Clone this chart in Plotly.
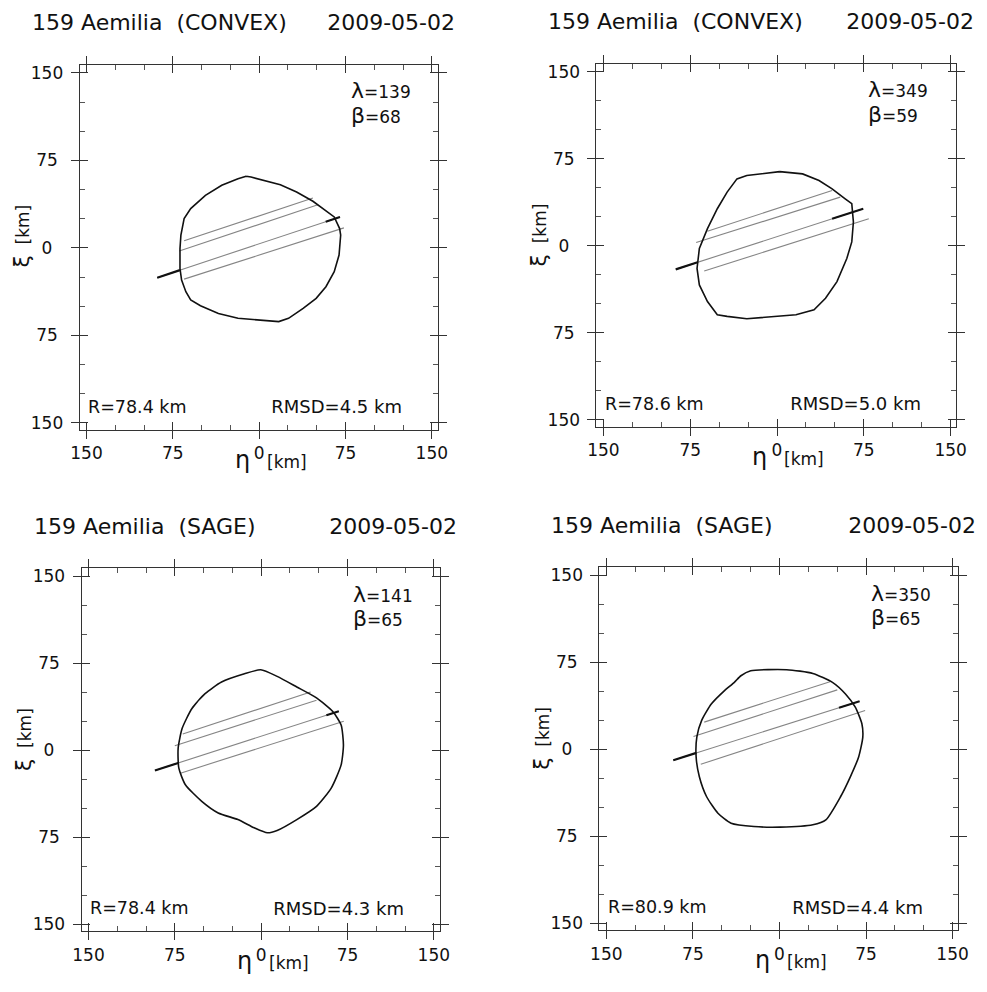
import plotly.graph_objects as go

# ---------------- data ----------------
title_left = ["159 Aemilia\u00a0\u00a0(CONVEX)", "159 Aemilia\u00a0\u00a0(CONVEX)",
              "159 Aemilia\u00a0\u00a0(SAGE)", "159 Aemilia\u00a0\u00a0(SAGE)"]
dates = ["2009-05-02", "2009-05-02", "2009-05-02", "2009-05-02"]
lambdas = ["139", "349", "141", "350"]
betas = ["68", "59", "65", "65"]
radii = ["78.4", "78.6", "78.4", "80.9"]
rmsds = ["4.5", "5.0", "4.3", "4.4"]

tick_vals = [-150, -75, 0, 75, 150]
x_tick_text = ["150", "75", "0", "75", "150"]
y_tick_text = ["150", "75\u00a0", "0\u00a0\u00a0", "75\u00a0", "150"]

# outlines (eta, xi) in km
tl_eta = [-11.3, -7.1, 18.4, 32.5, 46.7, 65.2, 69.9, 70.8, 69.4, 65.2, 58.0, 49.5, 38.2, 25.5, 17.0,
          -1.4, -18.4, -35.4, -51.0, -59.5, -63.7, -67.4, -68.8, -68.8, -68.0, -65.2, -59.5, -46.7, -32.5, -18.4]
tl_xi = [61.3, 60.7, 54.1, 47.9, 39.9, 26.5, 16.5, 10.9, -6.2, -20.5, -33.3, -43.3, -51.9, -60.4, -63.2,
         -61.8, -60.4, -56.2, -49.6, -44.7, -37.6, -27.6, -17.7, -0.6, 10.9, 25.0, 33.6, 45.0, 53.6, 59.2]

tr_eta = [2.3, 22.1, 36.3, 47.6, 58.9, 64.6, 66.0, 64.6, 60.3, 51.8, 41.9, 32.0, 16.4, -9.1, -26.1,
          -43.1, -51.6, -60.1, -67.1, -69.1, -67.1, -60.1, -51.6, -43.1, -34.6, -26.1]
tr_xi = [64.0, 62.0, 56.3, 49.1, 40.5, 36.3, 20.6, 3.4, -10.9, -30.8, -45.2, -55.1, -59.4, -61.1, -62.8,
         -60.8, -59.4, -48.0, -33.7, -19.5, -2.3, 14.8, 32.0, 46.3, 57.7, 60.6]

bl_eta = [-0.3, 13.9, 31.0, 48.1, 62.4, 69.5, 71.5, 69.5, 60.9, 48.1, 31.0, 13.9, 5.4, -6.0, -20.2,
          -37.3, -51.6, -65.8, -71.5, -72.1, -68.6, -60.1, -48.7, -34.4, -14.5]
bl_xi = [69.4, 63.7, 54.6, 45.2, 33.2, 21.7, 4.5, -12.6, -32.6, -48.3, -59.7, -69.1, -71.1, -66.8, -59.7,
         -54.0, -44.0, -29.7, -15.4, 1.7, 18.9, 36.0, 48.8, 58.9, 66.0]

br_eta = [-24.9, 6.2, 28.9, 45.9, 57.2, 65.7, 71.4, 72.2, 68.6, 61.4, 52.9, 40.2, 28.9, 0.6, -22.1,
          -41.9, -53.3, -63.1, -69.4, -72.2, -71.6, -67.4, -58.9, -47.6, -39.1, -33.4]
br_xi = [67.7, 68.6, 65.4, 57.7, 47.7, 36.3, 22.0, 10.5, -6.6, -23.7, -40.9, -60.8, -65.1, -67.1, -66.6,
         -63.7, -55.1, -40.9, -23.7, -6.6, 10.5, 24.9, 39.2, 50.6, 57.7, 63.4]

# chords: start (eta0, xi0) -> end (eta1, xi1); third chord is the emphasised one
tl_c_eta0 = [-65.2, -69.4, -88.6, -65.2]
tl_c_xi0 = [6.0, -2.8, -25.6, -26.8]
tl_c_eta1 = [46.7, 51.0, 70.2, 73.6]
tl_c_xi1 = [42.7, 37.0, 26.5, 17.1]

tr_c_eta0 = [-60.1, -69.9, -87.5, -62.9]
tr_c_xi0 = [12.6, 2.8, -20.3, -21.7]
tr_c_eta1 = [47.6, 54.6, 74.5, 79.3]
tr_c_xi1 = [47.7, 42.0, 32.0, 23.4]

bl_c_eta0 = [-68.1, -75.0, -92.3, -70.1]
bl_c_xi0 = [14.0, 4.0, -17.4, -19.7]
bl_c_eta1 = [43.0, 48.1, 67.5, 71.8]
bl_c_xi1 = [50.3, 43.1, 33.7, 25.1]

br_c_eta0 = [-65.2, -74.5, -92.0, -68.2]
br_c_xi0 = [23.4, 11.1, -9.4, -12.9]
br_c_eta1 = [44.4, 50.1, 69.4, 74.2]
br_c_xi1 = [58.5, 51.2, 41.4, 33.4]

# eta ranges of the heavy parts of the emphasised chord
tl_thick = [[-88.6, -68.8], [57.8, 70.2]]
tr_thick = [[-87.5, -68.6], [47.6, 74.5]]
bl_thick = [[-92.3, -72.0], [56.7, 67.5]]
br_thick = [[-92.0, -72.0], [51.6, 69.4]]

# ---------------- layout helpers ----------------
W, H = 987, 992
boxes = [(72, 63, 437, 430), (599, 62, 966, 427), (74, 569, 439, 934), (602, 568, 968, 933)]
XR = [-156, 155]
YR = [-156, 157]
FONT = "DejaVu Sans"
TXT = "#111111"

outlines = [(tl_eta, tl_xi, "linear"), (tr_eta, tr_xi, "linear"),
            (bl_eta, bl_xi, "spline"), (br_eta, br_xi, "spline")]
chords = [(tl_c_eta0, tl_c_xi0, tl_c_eta1, tl_c_xi1, tl_thick),
          (tr_c_eta0, tr_c_xi0, tr_c_eta1, tr_c_xi1, tr_thick),
          (bl_c_eta0, bl_c_xi0, bl_c_eta1, bl_c_xi1, bl_thick),
          (br_c_eta0, br_c_xi0, br_c_eta1, br_c_xi1, br_thick)]

fig = go.Figure()
layout = dict(width=W, height=H, margin=dict(l=0, r=0, t=0, b=0),
              paper_bgcolor="white", plot_bgcolor="white", showlegend=False,
              font=dict(family=FONT, color=TXT))
annotations = []


def px(x):
    return x / W


def py(y):
    return 1 - y / H


def note(text, x, y, anchor, size, width=None, **kw):
    d = dict(text=text, x=px(x), y=py(y), xanchor=anchor, yanchor="middle",
             font=dict(size=size), align=anchor, borderpad=0)
    if width:
        d["width"] = width
    d.update(kw)
    return d


for i in range(4):
    n = i + 1
    m = i + 5
    L, T, R, B = boxes[i]
    xs = "" if n == 1 else str(n)
    xa, ya = "x" + xs, "y" + xs
    dom_x = [px(L), px(R)]
    dom_y = [py(B), py(T)]
    common = dict(range=XR, showgrid=False, zeroline=False, fixedrange=True)
    layout["xaxis" + xs] = dict(common, domain=dom_x, anchor=ya, showline=True, mirror="allticks",
                                linecolor="#333", linewidth=1, ticks="outside", ticklen=8,
                                tickcolor="#333", tickwidth=1, tickmode="array", tickvals=tick_vals,
                                ticktext=x_tick_text, tickfont=dict(size=17, family=FONT, color=TXT))
    layout["yaxis" + xs] = dict(common, range=YR, domain=dom_y, anchor=xa, showline=True,
                                mirror="allticks", linecolor="#333", linewidth=1, ticks="outside",
                                ticklen=8, tickcolor="#333", tickwidth=1, tickmode="array",
                                tickvals=tick_vals, ticktext=y_tick_text, ticklabelstandoff=4,
                                tickfont=dict(size=17, family=FONT, color=TXT))
    layout["xaxis" + str(m)] = dict(common, overlaying=xa, anchor="y" + str(m), showline=False,
                                    mirror="allticks", ticks="inside", ticklen=8, tickcolor="#333",
                                    tickwidth=1, tickmode="linear", tick0=0, dtick=75,
                                    showticklabels=False,
                                    minor=dict(ticks="inside", ticklen=5, tickcolor="#555",
                                               tickmode="linear", tick0=0, dtick=25))
    layout["yaxis" + str(m)] = dict(common, range=YR, overlaying=ya, anchor="x" + str(m),
                                    showline=False, mirror="allticks", ticks="inside", ticklen=8,
                                    tickcolor="#333", tickwidth=1, tickmode="linear", tick0=0,
                                    dtick=75, showticklabels=False,
                                    minor=dict(ticks="inside", ticklen=5, tickcolor="#555",
                                               tickmode="linear", tick0=0, dtick=25))
    fig.add_trace(go.Scatter(x=[None], y=[None], xaxis="x" + str(m), yaxis="y" + str(m),
                             hoverinfo="skip", mode="lines"))

    # chords (thin)
    e0, x0, e1, x1, thick = chords[i]
    for k in range(len(e0)):
        fig.add_trace(go.Scatter(x=[e0[k], e1[k]], y=[x0[k], x1[k]], xaxis=xa, yaxis=ya,
                                 mode="lines", line=dict(color="#858585", width=1.1),
                                 hoverinfo="skip"))
    # heavy parts of the emphasised chord
    k = 2
    slope = (x1[k] - x0[k]) / (e1[k] - e0[k])
    for seg in thick:
        fig.add_trace(go.Scatter(x=seg, y=[x0[k] + slope * (s - e0[k]) for s in seg],
                                 xaxis=xa, yaxis=ya, mode="lines",
                                 line=dict(color="#111", width=2.2), hoverinfo="skip"))
    # outline
    oe, ox, shp = outlines[i]
    fig.add_trace(go.Scatter(x=list(oe) + [oe[0]], y=list(ox) + [ox[0]], xaxis=xa, yaxis=ya,
                             mode="lines", line=dict(color="#111", width=1.6, shape=shp,
                                                     smoothing=0.6),
                             hoverinfo="skip"))

    # texts
    annotations += [
        note(title_left[i], L - 50, T - 42, "left", 22, 300),
        note(dates[i], R + 19, T - 42, "right", 22, 160),
        note("<span style='font-size:22px'>λ</span>=" + lambdas[i], L + 276, T + 26, "left", 17, 80),
        note("<span style='font-size:22px'>β</span>=" + betas[i], L + 276, T + 51, "left", 17, 80),
        note("R=" + radii[i] + " km", L + 8, B - 23, "left", 17.5, 120),
        note("RMSD=" + rmsds[i] + " km", R - 35, B - 23, "right", 18, 150),
        note("η", L + 175, B + 30, "right", 24),
        note("[km]", L + 190, B + 32, "left", 17),
        note("<span style='font-size:22px'>ξ</span>\u00a0\u00a0[km]", L - 59, T + 172, "center", 17,
             textangle=-90),
    ]

for a in annotations:
    a.update(xref="paper", yref="paper", showarrow=False)
layout["annotations"] = annotations
fig.update_layout(**layout)
fig.write_html("out.html")
